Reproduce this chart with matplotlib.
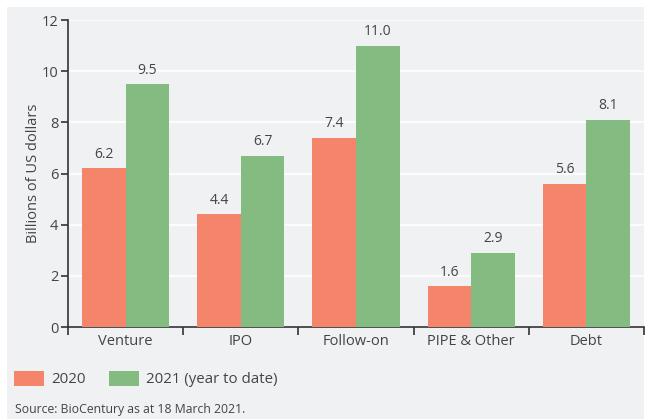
import numpy as np
import matplotlib.pyplot as plt
from matplotlib.patches import Rectangle, Patch

# Data
categories = ['Venture', 'IPO', 'Follow-on', 'PIPE & Other', 'Debt']
vals_2020 = [6.2, 4.4, 7.4, 1.6, 5.6]
vals_2021 = [9.5, 6.7, 11.0, 2.9, 8.1]
series_names = ['2020', '2021 (year to date)']

c2020 = '#F4846A'
c2021 = '#84BB80'
text_c = '#444444'
bg = '#F0F1F3'

plt.rcParams['font.family'] = ['Open Sans', 'DejaVu Sans']

fig = plt.figure(figsize=(6.48, 4.19), dpi=100)
fig.patch.set_facecolor('white')
# gray panel behind everything
fig.patches.append(Rectangle((7 / 648, 0), 637 / 648, 412 / 419, transform=fig.transFigure,
                             facecolor=bg, edgecolor='none', zorder=-10))

ax = fig.add_axes([68 / 648, 1 - 327 / 419, 576 / 648, 307 / 419])
ax.set_facecolor(bg)

x = np.arange(len(categories))
w = 0.378
b1 = ax.bar(x - w / 2, vals_2020, w, color=c2020, zorder=3)
b2 = ax.bar(x + w / 2, vals_2021, w, color=c2021, zorder=3)

for bars, vals in [(b1, vals_2020), (b2, vals_2021)]:
    for rect, v in zip(bars, vals):
        ax.text(rect.get_x() + rect.get_width() / 2, v + 0.25, f'{v:.1f}',
                ha='center', va='bottom', fontsize=10, color=text_c)

ax.set_xlim(-0.5, len(categories) - 0.5)
ax.set_ylim(0, 12)
ax.set_yticks(range(0, 13, 2))
ax.yaxis.grid(True, color='white', linewidth=1.2, zorder=0)
ax.set_axisbelow(True)

# category labels at centres, tick marks at boundaries
ax.set_xticks(np.arange(-0.5, len(categories), 1))
ax.set_xticklabels([])
ax.set_xticks(x, minor=True)
ax.set_xticklabels(categories, minor=True, fontsize=10.5, color=text_c)
ax.tick_params(axis='x', which='minor', length=0, pad=5)
ax.tick_params(axis='x', which='major', length=6, width=1.2, color='#333333', direction='out')
ax.tick_params(axis='y', length=5, width=1.2, color='#333333', labelsize=10.5, labelcolor=text_c, pad=2)

for s in ['top', 'right']:
    ax.spines[s].set_visible(False)
for s in ['left', 'bottom']:
    ax.spines[s].set_color('#333333')
    ax.spines[s].set_linewidth(1.2)

ax.set_ylabel('Billions of US dollars', fontsize=10.5, color=text_c, labelpad=0.5)

handles = [Patch(facecolor=c2020), Patch(facecolor=c2021)]
fig.legend(handles, series_names, loc='center left', bbox_to_anchor=(14 / 648, 1 - 379 / 419),
           ncol=2, frameon=False, fontsize=10.8, handlelength=2.0, handleheight=1.2,
           handletextpad=0.45, columnspacing=1.6, borderaxespad=0, borderpad=0,
           labelcolor=text_c)

fig.text(15 / 648, 1 - 409 / 419, 'Source: BioCentury as at 18 March 2021.',
         fontsize=8.8, color=text_c, va='center', ha='left')

plt.savefig('out.png', dpi=100)
